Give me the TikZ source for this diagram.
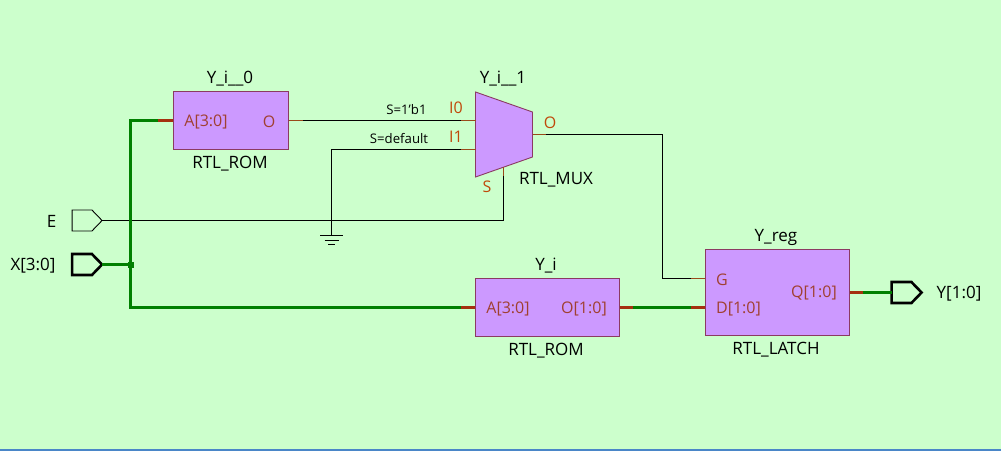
\documentclass[tikz,border=0pt]{standalone}
\usepackage{fontspec}
\setmainfont{Open Sans}
\usetikzlibrary{shapes.symbols}
\definecolor{schbg}{HTML}{CCFFCC}
\definecolor{cellfill}{HTML}{CC99FF}
\definecolor{celledge}{HTML}{8B3A62}
\definecolor{pinred}{HTML}{A5300F}
\definecolor{pinthin}{HTML}{9A4A1A}
\definecolor{pintext}{HTML}{A04030}
\definecolor{busgreen}{HTML}{008000}
\definecolor{winblue}{HTML}{4A86C8}
\tikzset{
    every node/.style={font=\fontsize{17}{18}\selectfont,inner sep=0pt,outer sep=0pt},
    cell/.style={rectangle,draw=celledge,fill=cellfill,line width=0.9pt},
    muxcell/.style={draw=celledge,fill=cellfill,line width=0.9pt},
    portin/.style={signal,signal to=east,signal pointer angle=92,minimum width=30pt,minimum height=21pt,draw=black,line width=0.9pt},
    portbus/.style={portin,line width=2.6pt},
    pinname/.style={text=pintext,font=\fontsize{16}{18}\selectfont},
    muxpin/.style={text=pinred!70!orange,font=\fontsize{16}{18}\selectfont},
    wirelabel/.style={font=\fontsize{13.2}{15}\selectfont},
    wire/.style={draw=black,line width=0.9pt},
    bus/.style={draw=busgreen,line width=2.8pt},
    stub/.style={draw=pinthin,line width=0.9pt},
    busstub/.style={draw=pinred,line width=2.8pt}
}
\begin{document}
\begin{tikzpicture}[x=1pt,y=-1pt]
\useasboundingbox (0,0) rectangle (1001,451);
\fill[schbg] (0,0) rectangle (1001,451);
\fill[winblue] (0,449) rectangle (1001,451);
% cells
\node[cell,minimum width=115.5pt,minimum height=58pt] (rom0) at (230.75,120.5) {};
\draw[muxcell] (475.5,92) coordinate (muxa) -- (532.5,112) coordinate (muxb)
    -- (532.5,157) coordinate (muxc) -- (475.5,177) coordinate (muxd) -- cycle;
\node[cell,minimum width=144.5pt,minimum height=58pt] (rom1) at (547.25,307.5) {};
\node[cell,minimum width=144.5pt,minimum height=86.5pt] (latch) at (777.25,292.5) {};
% ports
\node[portin] (portE) at (82,220.5) {};
\node[portbus] (portX) at (82,264.5) {};
\node[portbus] (portY) at (901.5,292.5) {};
% pin coordinates
\coordinate (romA) at (173,120.5);
\coordinate (romAs) at (158,120.5);
\coordinate (romO) at (288.5,120.5);
\coordinate (muxI0s) at (461,120.5);
\coordinate (muxI0) at (475.5,120.5);
\coordinate (muxI1s) at (461,149.5);
\coordinate (muxI1) at (475.5,149.5);
\coordinate (muxOs) at (546,134.5);
\coordinate (muxO) at (532.5,134.5);
\coordinate (muxS) at (503.5,167);
\coordinate (muxSs) at (503.5,176);
\coordinate (gnd) at (331.5,235);
\coordinate (trunk) at (130.5,264.5);
\coordinate (romAi) at (475,307.5);
\coordinate (romAis) at (461,307.5);
\coordinate (romOi) at (619.5,307.5);
\coordinate (romOis) at (633,307.5);
\coordinate (latD) at (705,307.5);
\coordinate (latDs) at (691,307.5);
\coordinate (latG) at (705,278.5);
\coordinate (latGs) at (691,278.5);
\coordinate (latQ) at (849.5,292.5);
\coordinate (latQs) at (863,292.5);
% thin wires
\draw[wire] (romO) -- (muxI0s);
\draw[wire] (gnd) |- (muxI1s);
\draw[wire] (portE.east) -| (muxSs);
\draw[wire] (muxOs) -| (662,278.5) -- (latGs);
\draw[wire] ([xshift=-11.5pt]gnd) -- ([xshift=11.5pt]gnd);
\draw[wire] ([xshift=-7pt,yshift=-5pt]gnd) -- ([xshift=7pt,yshift=-5pt]gnd);
\draw[wire] ([xshift=-3.5pt,yshift=-9pt]gnd) -- ([xshift=3.5pt,yshift=-9pt]gnd);
% buses
\draw[bus] (romAs) -| (trunk) |- (romAis);
\draw[bus] (portX.east) -- (trunk);
\draw[bus] (romOis) -- (latDs);
\draw[bus] (latQs) -- (portY.west);
\node[rectangle,fill=busgreen,minimum size=6pt] (joint) at (trunk) {};
% pin stubs
\draw[busstub] (romAs) -- (romA);
\draw[stub] (romO) -- ++(14,0);
\draw[stub] (muxI0s) -- (muxI0);
\draw[stub] (muxI1s) -- (muxI1);
\draw[stub] (muxO) -- (muxOs);
\draw[stub] (muxS) -- (muxSs);
\draw[busstub] (romAis) -- (romAi);
\draw[busstub] (romOi) -- (romOis);
\draw[busstub] (latDs) -- (latD);
\draw[stub] (latGs) -- (latG);
\draw[busstub] (latQ) -- (latQs);
% names
\node (n0) at (230,79) {Y\_i\_\_0};
\node (t0) at (230,164) {RTL\_ROM};
\node (n1) at (503,79) {Y\_i\_\_1};
\node (t1) at (556,180) {RTL\_MUX};
\node (n2) at (546,266) {Y\_i};
\node (t2) at (546,351) {RTL\_ROM};
\node (n3) at (776,237) {Y\_reg};
\node (t3) at (776,350) {RTL\_LATCH};
\node (lE) at (51.5,221.5) {E};
\node (lX) at (33,265.5) {X[3:0]};
\node (lY) at (959,293.5) {Y[1:0]};
% pin names
\node[pinname] (pA0) at (206,121.5) {A[3:0]};
\node[pinname] (pO0) at (269,121.5) {O};
\node[muxpin] (pI0) at (456,107.5) {I0};
\node[muxpin] (pI1) at (456,136.5) {I1};
\node[muxpin] (pO1) at (550,123) {O};
\node[muxpin] (pS) at (487,187) {S};
\node[pinname] (pA1) at (508,308.5) {A[3:0]};
\node[pinname] (pO2) at (584,308.5) {O[1:0]};
\node[pinname] (pG) at (722,280) {G};
\node[pinname] (pD) at (738.5,308.5) {D[1:0]};
\node[pinname] (pQ) at (814,293.5) {Q[1:0]};
% wire labels
\node[wirelabel] (s1) at (406.5,110) {S=1'b1};
\node[wirelabel] (s2) at (399,139) {S=default};
\end{tikzpicture}
\end{document}
